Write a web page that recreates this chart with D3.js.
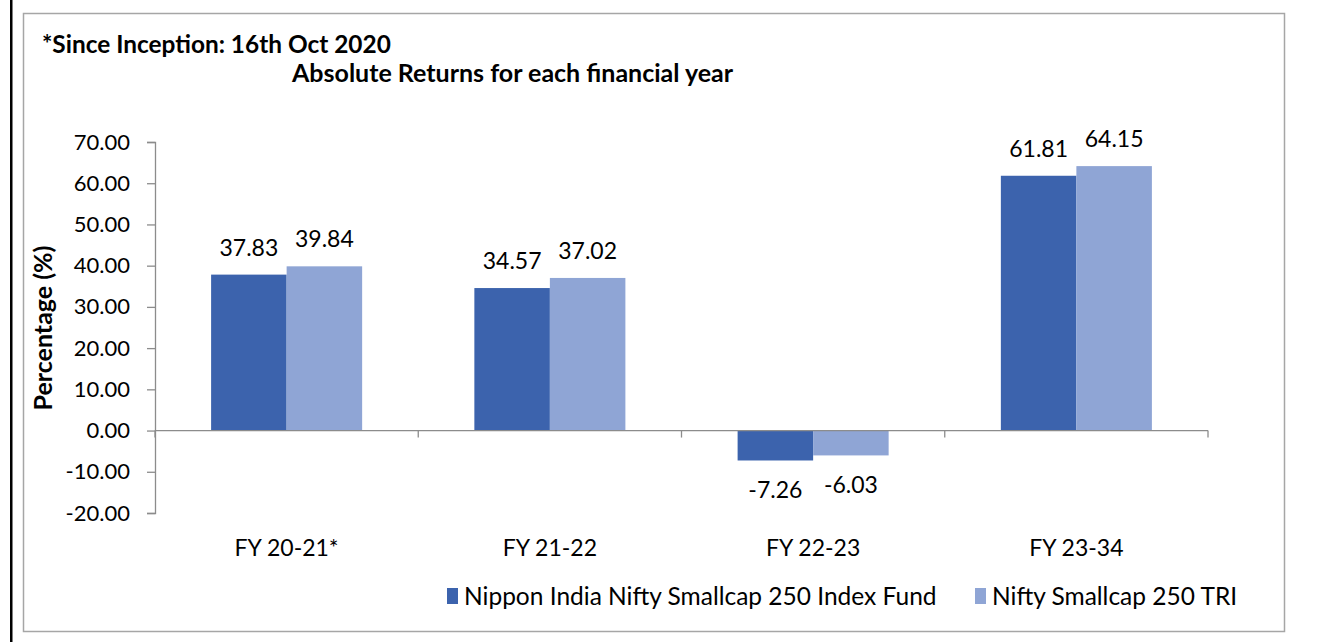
<!DOCTYPE html>
<html>
<head>
<meta charset="utf-8">
<script src="https://cdn.jsdelivr.net/npm/d3@7"></script>
<style>
  body { margin: 0; background: #fff; }
  text { font-family: Lato, "Open Sans", sans-serif; fill: #000; }
</style>
</head>
<body>
<svg id="viz-container" width="1321" height="642"></svg>
<script>
// chart data
var categories = ["FY 20-21*", "FY 21-22", "FY 22-23", "FY 23-34"];
var series = ["Nippon India Nifty Smallcap 250 Index Fund", "Nifty Smallcap 250 TRI"];
var fundValues = [37.83, 34.57, -7.26, 61.81];
var indexValues = [39.84, 37.02, -6.03, 64.15];
var yTicks = [-20, -10, 0, 10, 20, 30, 40, 50, 60, 70];
var colors = ["#3c63ad", "#8fa5d5"];

var svg = d3.select("#viz-container");

// hyphen instead of unicode minus, like the original
var fmt = function(v) { return d3.format(".2f")(v).replace("\u2212", "-"); };

// outer lines
svg.append("rect")
  .attr("x", 10).attr("y", 0)
  .attr("width", 2.5).attr("height", 642)
  .style("fill", "#000");
svg.append("rect")
  .attr("x", 23.5).attr("y", 13.5)
  .attr("width", 1261).attr("height", 618)
  .style("fill", "none")
  .style("stroke", "#a6a6a6")
  .style("stroke-width", 1.5);

// titles
svg.append("text")
  .attr("x", 42).attr("y", 53)
  .style("font-size", "24.4px").style("font-weight", "bold")
  .text("*Since Inception: 16th Oct 2020");
svg.append("text")
  .attr("x", 292).attr("y", 82)
  .style("font-size", "25px").style("font-weight", "bold")
  .text("Absolute Returns for each financial year");

// scales
var yScale = d3.scaleLinear()
  .domain([-20, 70])
  .range([513, 142]);

var x0 = d3.scaleBand()
  .domain(categories)
  .range([155, 1208])
  .padding(0);

var x1 = d3.scaleBand()
  .domain(series)
  .range([0, x0.bandwidth()])
  .paddingInner(0)
  .paddingOuter(0.743);

var rows = categories.map(function(c, i) {
  return { cat: c, vals: [fundValues[i], indexValues[i]] };
});

// y axis
var yAxis = svg.append("g")
  .attr("transform", "translate(155,0)")
  .call(d3.axisLeft(yScale).tickValues(yTicks).tickFormat(fmt).tickSize(8).tickPadding(17));
yAxis.select(".domain").attr("stroke", "#8c8c8c").attr("stroke-width", 1.3);
yAxis.selectAll(".tick line").attr("stroke", "#8c8c8c").attr("stroke-width", 1.3);
yAxis.selectAll(".tick text")
  .style("font-size", "22px").attr("font-family", null).attr("fill", "#000");

// y title
svg.append("text")
  .attr("transform", "translate(52,328) rotate(-90)")
  .attr("text-anchor", "middle")
  .style("font-size", "25px").style("font-weight", "bold")
  .text("Percentage (%)");

// bars
var groups = svg.append("g").attr("id", "bars-container")
  .selectAll(".group")
  .data(rows)
 .enter().append("g")
  .attr("class", "group")
  .attr("transform", function(d) { return "translate(" + x0(d.cat) + ",0)"; });

groups.selectAll("rect")
  .data(function(d) { return d.vals.map(function(v, i) { return { s: series[i], v: v, i: i }; }); })
 .enter().append("rect")
  .attr("x", function(d) { return x1(d.s); })
  .attr("width", x1.bandwidth())
  .attr("y", function(d) { return yScale(Math.max(0, d.v)); })
  .attr("height", function(d) { return Math.abs(yScale(d.v) - yScale(0)); })
  .style("fill", function(d) { return colors[d.i]; });

groups.selectAll(".label")
  .data(function(d) { return d.vals.map(function(v, i) { return { s: series[i], v: v, i: i }; }); })
 .enter().append("text")
  .attr("class", "label")
  .attr("text-anchor", "middle")
  .attr("x", function(d) { return x1(d.s) + x1.bandwidth() / 2; })
  .attr("y", function(d) { return d.v >= 0 ? yScale(d.v) - 19 : yScale(d.v) + 38; })
  .style("font-size", "23px")
  .text(function(d) { return fmt(d.v); });

// x axis on zero line
var xAxis = svg.append("g")
  .attr("transform", "translate(0," + yScale(0) + ")");
xAxis.append("line")
  .attr("x1", 155).attr("x2", 1208)
  .attr("stroke", "#8c8c8c").attr("stroke-width", 1.3);
xAxis.selectAll(".xtick")
  .data(categories.concat(["end"]))
 .enter().append("line")
  .attr("class", "xtick")
  .attr("x1", function(d, i) { return i < categories.length ? x0(d) : 1208; })
  .attr("x2", function(d, i) { return i < categories.length ? x0(d) : 1208; })
  .attr("y1", 0).attr("y2", 7)
  .attr("stroke", "#8c8c8c").attr("stroke-width", 1.3);

svg.append("g").selectAll(".catlabel")
  .data(categories)
 .enter().append("text")
  .attr("class", "catlabel")
  .attr("text-anchor", "middle")
  .attr("x", function(d) { return x0(d) + x0.bandwidth() / 2; })
  .attr("y", 556)
  .style("font-size", "23px")
  .text(function(d) { return d; });

// legend
var legend = svg.append("g").attr("id", "legend");
var legendX = [447, 975];
series.forEach(function(s, i) {
  legend.append("rect")
    .attr("x", legendX[i]).attr("y", 588)
    .attr("width", 11).attr("height", 16)
    .style("fill", colors[i]);
  legend.append("text")
    .attr("x", legendX[i] + 17).attr("y", 605)
    .style("font-size", "24.5px")
    .text(s);
});
</script>
</body>
</html>
